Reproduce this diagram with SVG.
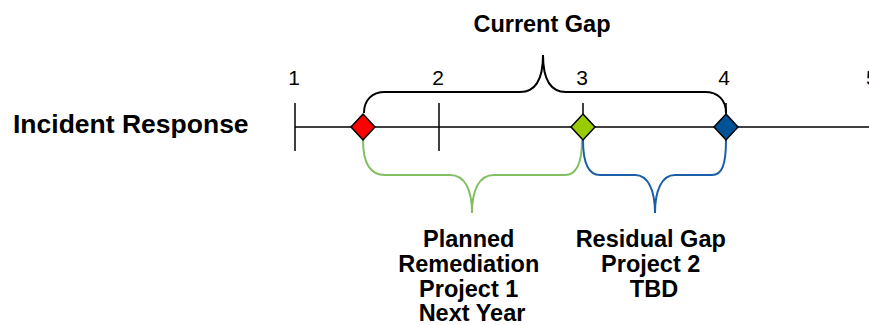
<svg xmlns="http://www.w3.org/2000/svg" width="869" height="325" viewBox="0 0 869 325">
<style>
.t{font-family:"Liberation Sans",Arial,sans-serif;fill:#000}
.b{font-weight:bold}
.ln{stroke:#000;stroke-width:1.5;fill:none}
.br{fill:none;stroke-width:2}
.dm{stroke:#000;stroke-width:1.5}
</style>
<rect width="869" height="325" fill="#fff"/>
<g id="title"><text class="t b" x="542" y="32" font-size="23.5" text-anchor="middle">Current Gap</text></g>
<g id="label"><text class="t b" x="13" y="133" font-size="26.5">Incident Response</text></g>
<g id="axis">
<line class="ln" x1="295" y1="127" x2="869" y2="127"/>
<line class="ln" x1="295" y1="103" x2="295" y2="151"/>
<line class="ln" x1="439" y1="103" x2="439" y2="151"/>
<line class="ln" x1="583" y1="103" x2="583" y2="127"/>
<line class="ln" x1="726" y1="103" x2="726" y2="127"/>
<text class="t" x="294" y="85" font-size="21" text-anchor="middle">1</text>
<text class="t" x="438" y="85" font-size="21" text-anchor="middle">2</text>
<text class="t" x="582" y="85" font-size="21" text-anchor="middle">3</text>
<text class="t" x="724" y="85" font-size="21" text-anchor="middle">4</text>
<text class="t" x="866" y="85" font-size="21" text-anchor="start">5</text>
</g>
<g id="connectors">
<path class="br" stroke="#000" d="M364,113 C364,100 372,92 385,92 L520,92 C535,92 543,80 543,55 C543,80 551,92 566,92 L705,92 C718,92 726,100 726,113"/>
<path class="br" stroke="#82bf62" d="M363,140 C363,165 372,175 385,175 L450,175 C465,175 472,190 472,213 C472,190 479,175 494,175 L565,175 C576,175 582,165 582,140"/>
<path class="br" stroke="#1a5ea8" d="M583,140 C583,165 590,175 600,175 L635,175 C648,175 655,190 655,213 C655,190 662,175 675,175 L712,175 C722,175 726,165 726,140"/>
</g>
<g id="m-red"><polygon class="dm" fill="#ff0000" points="363,114 375,127 363,140 351,127"/></g>
<g id="m-green"><polygon class="dm" fill="#99cc00" points="583,114 595,127 583,140 571,127"/></g>
<g id="m-blue"><polygon class="dm" fill="#005397" points="726,114 738,127 726,140 714,127"/></g>
<g id="planned">
<text class="t b" font-size="23.5" text-anchor="middle">
<tspan x="472" y="247">Planned</tspan>
<tspan x="472" y="272">Remediation</tspan>
<tspan x="472" y="297">Project 1</tspan>
<tspan x="472" y="321">Next Year</tspan>
</text>
</g>
<g id="residual">
<text class="t b" font-size="23.5" text-anchor="middle">
<tspan x="654" y="247">Residual Gap</tspan>
<tspan x="654" y="272">Project 2</tspan>
<tspan x="654" y="297">TBD</tspan>
</text>
</g>
</svg>
